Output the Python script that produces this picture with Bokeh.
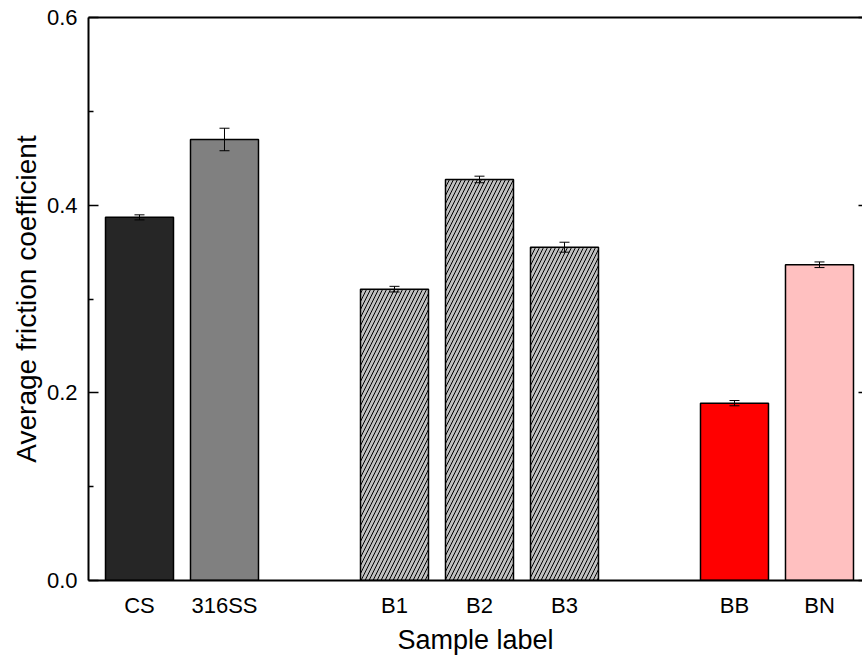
from bokeh.plotting import figure
from bokeh.models import ColumnDataSource, FixedTicker, LinearAxis, Whisker, Range1d
from bokeh.embed import file_html
from bokeh.resources import INLINE

samples = ["CS", "316SS", "B1", "B2", "B3", "BB", "BN"]
positions = [1, 2, 4, 5, 6, 8, 9]
friction = [0.387, 0.470, 0.3105, 0.4274, 0.3552, 0.189, 0.3365]
errors = [0.0027, 0.012, 0.003, 0.0035, 0.0053, 0.0028, 0.003]
colors = ["#262626", "#808080", "#C0C0C0", "#C0C0C0", "#C0C0C0", "#FF0000", "#FFC0C0"]
hatches = [" ", " ", "/", "/", "/", " ", " "]
y_ticks = [0.0, 0.2, 0.4, 0.6]
y_minor = [0.1, 0.3, 0.5]

FONT = "Liberation Sans"

src = ColumnDataSource(dict(
    x=positions, top=friction, color=colors, hatch=hatches,
    upper=[f + e for f, e in zip(friction, errors)],
    lower=[f - e for f, e in zip(friction, errors)],
))

p = figure(width=862, height=657, output_backend="svg", toolbar_location=None,
           x_range=Range1d(0.4, 9.506), y_range=Range1d(0, 0.6),
           min_border_left=88, min_border_right=0, min_border_top=17, min_border_bottom=77)
p.outline_line_color = None
p.grid.visible = False
p.background_fill_color = "white"

p.vbar(x="x", top="top", width=0.8, bottom=0, source=src, fill_color="color",
       line_color="black", line_width=1.5, hatch_pattern="hatch", hatch_color="black",
       hatch_scale=8, hatch_weight=1)

w = Whisker(source=src, base="x", upper="upper", lower="lower", line_color="black",
            line_width=1, level="overlay")
for h in (w.upper_head, w.lower_head):
    h.size = 10
    h.line_width = 1
    h.line_color = "black"
p.add_layout(w)

# x axis
xa = p.xaxis[0]
xa.ticker = FixedTicker(ticks=positions)
xa.major_label_overrides = {pos: s for pos, s in zip(positions, samples)}
xa.major_tick_line_color = None
xa.minor_tick_line_color = None
xa.axis_line_width = 2
xa.axis_label = "Sample label"
xa.axis_label_text_font = FONT
xa.axis_label_text_font_size = "27px"
xa.axis_label_text_font_style = "normal"
xa.axis_label_text_color = "black"
xa.axis_label_standoff = 4
xa.major_label_text_font = FONT
xa.major_label_text_font_size = "22px"
xa.major_label_text_color = "black"
xa.major_label_standoff = 6

# y axis
ya = p.yaxis[0]
ya.ticker = FixedTicker(ticks=y_ticks, minor_ticks=y_minor)
ya.major_label_overrides = {t: f"{t:.1f}" for t in y_ticks}
ya.axis_line_width = 2
ya.major_tick_in = 10
ya.major_tick_out = 0
ya.minor_tick_in = 5
ya.minor_tick_out = 0
ya.major_tick_line_width = 1.5
ya.minor_tick_line_width = 1.5
ya.axis_label = "Average friction coefficient"
ya.axis_label_text_font = FONT
ya.axis_label_text_font_size = "28px"
ya.axis_label_text_font_style = "normal"
ya.axis_label_text_color = "black"
ya.axis_label_standoff = 2
ya.major_label_text_font = FONT
ya.major_label_text_font_size = "22px"
ya.major_label_text_color = "black"
ya.major_label_standoff = 11

# top border line
ta = LinearAxis(ticker=FixedTicker(ticks=[]), axis_line_width=2,
                major_tick_out=0, minor_tick_out=0)
p.add_layout(ta, "above")

# right axis (line clipped in reference, only inner tick stubs visible)
ra = LinearAxis(ticker=FixedTicker(ticks=y_ticks), axis_line_color=None,
                major_tick_in=4, major_tick_out=0, major_tick_line_width=1.5,
                minor_tick_line_color=None,
                major_label_overrides={t: "" for t in y_ticks}, major_label_standoff=0)
p.add_layout(ra, "right")

open("out.html", "w").write(file_html(p, INLINE))
